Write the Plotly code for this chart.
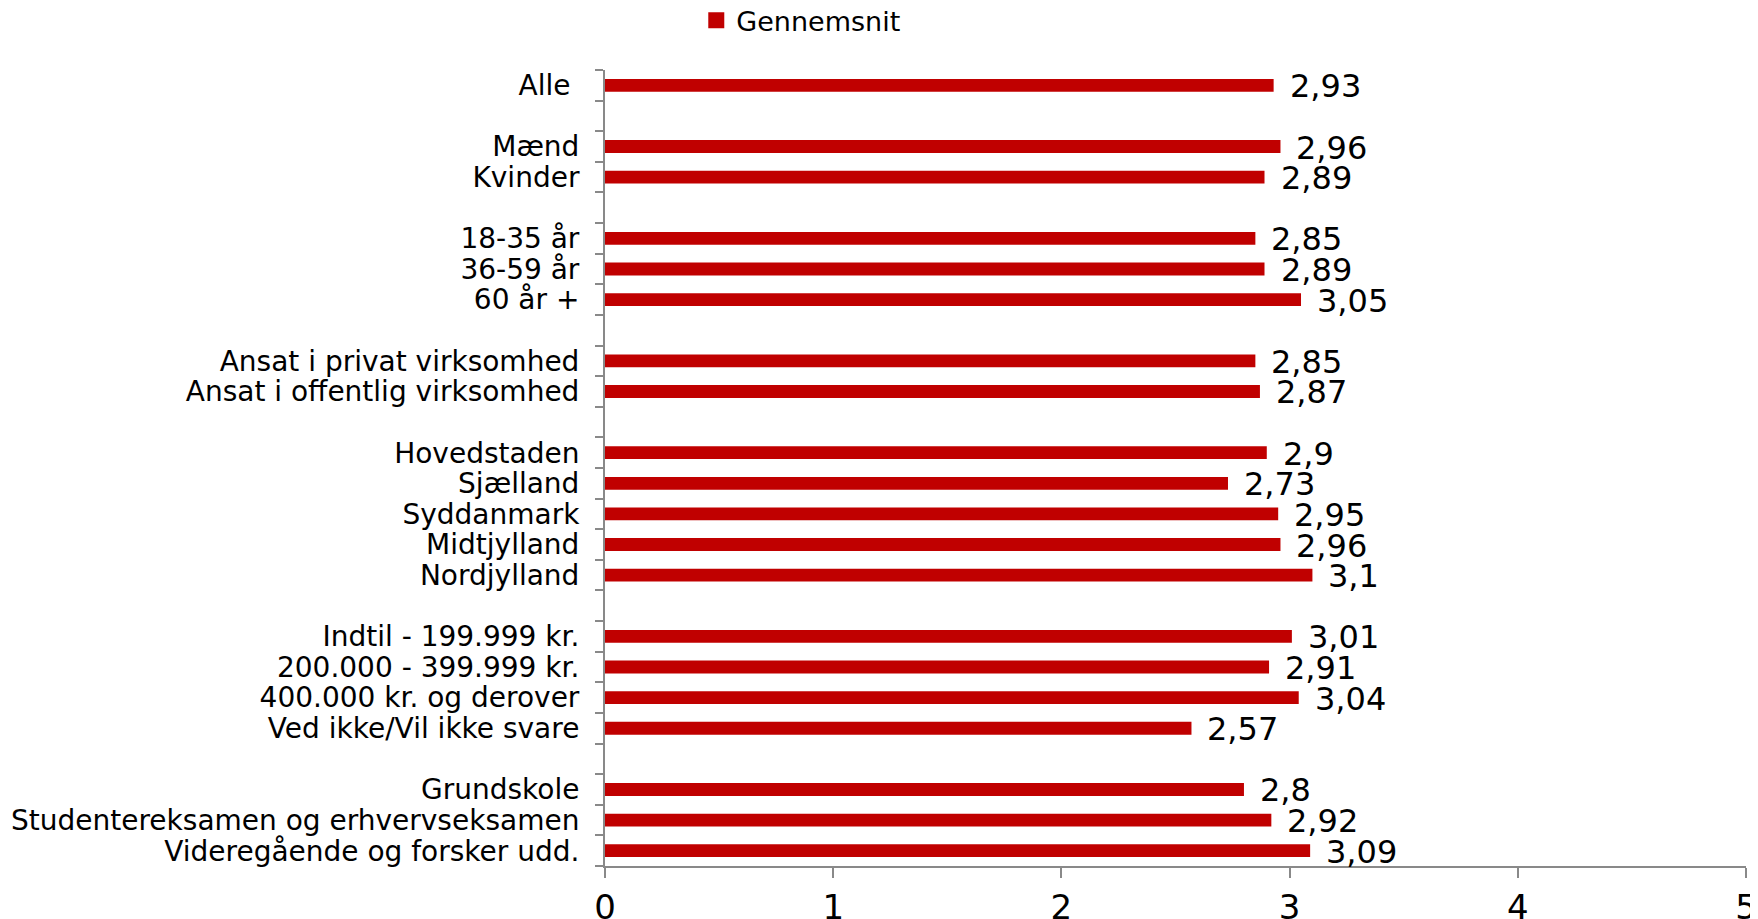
import plotly.graph_objects as go

categories = [
    "Alle\u00a0", " ",
    "Mænd", "Kvinder", "  ",
    "18-35 år", "36-59 år", "60 år +", "   ",
    "Ansat i privat virksomhed", "Ansat i offentlig virksomhed", "    ",
    "Hovedstaden", "Sjælland", "Syddanmark", "Midtjylland", "Nordjylland", "     ",
    "Indtil - 199.999 kr.", "200.000 - 399.999 kr.", "400.000 kr. og derover", "Ved ikke/Vil ikke svare", "      ",
    "Grundskole", "Studentereksamen og erhvervseksamen", "Videregående og forsker udd.",
]
values = [
    2.93, None,
    2.96, 2.89, None,
    2.85, 2.89, 3.05, None,
    2.85, 2.87, None,
    2.9, 2.73, 2.95, 2.96, 3.1, None,
    3.01, 2.91, 3.04, 2.57, None,
    2.8, 2.92, 3.09,
]
series_name = "Gennemsnit"
x_ticks = [0, 1, 2, 3, 4, 5]

FONT = "DejaVu Sans"
RED = "#C00000"
AXIS = "#898989"

fig = go.Figure()
fig.add_trace(go.Bar(
    x=values, y=categories, orientation="h", name=series_name,
    marker=dict(color=RED, line=dict(width=0)), width=0.42,
    showlegend=False, hoverinfo="x+y",
))
# legend entry with a square swatch
fig.add_trace(go.Scatter(
    x=[None], y=[None], mode="markers", name=series_name,
    marker=dict(symbol="square", size=16, color=RED), showlegend=True,
))

for c, v in zip(categories, values):
    if v is None:
        continue
    fig.add_annotation(
        x=v, y=c, xref="x", yref="y", text=str(v).replace(".", ","),
        showarrow=False, xanchor="left", yanchor="middle", xshift=14, yshift=-1,
        font=dict(family=FONT, size=32, color="#000000"),
    )

n = len(categories)
fig.update_layout(
    width=1750, height=911,
    margin=dict(l=597, r=12, t=62, b=53, autoexpand=False),
    paper_bgcolor="white", plot_bgcolor="white",
    font=dict(family=FONT, color="#000000"),
    legend=dict(
        orientation="h", x=0.080, y=1.062, xanchor="left", yanchor="middle",
        font=dict(family=FONT, size=27), bgcolor="rgba(0,0,0,0)",
        itemwidth=30, tracegroupgap=0,
    ),
    xaxis=dict(
        range=[0, 5], tickvals=x_ticks, ticktext=[str(t) for t in x_ticks],
        showgrid=False, zeroline=False,
        showline=True, linecolor=AXIS, linewidth=2,
        ticks="outside", ticklen=10, tickwidth=2, tickcolor=AXIS,
        tickfont=dict(family=FONT, size=34, color="#000000"),
    ),
    yaxis=dict(
        type="category", categoryorder="array", categoryarray=categories,
        tickmode="array", tickvals=categories, ticktext=categories,
        range=[n - 0.5, -0.5], autorange=False,
        showgrid=False, zeroline=False,
        showline=True, linecolor=AXIS, linewidth=2,
        ticks="outside", tickson="boundaries", ticklen=8, tickwidth=2, tickcolor=AXIS,
        tickfont=dict(family=FONT, size=28, color="#000000"),
        ticklabelstandoff=18,
    ),
)

fig.write_html("out.html")
